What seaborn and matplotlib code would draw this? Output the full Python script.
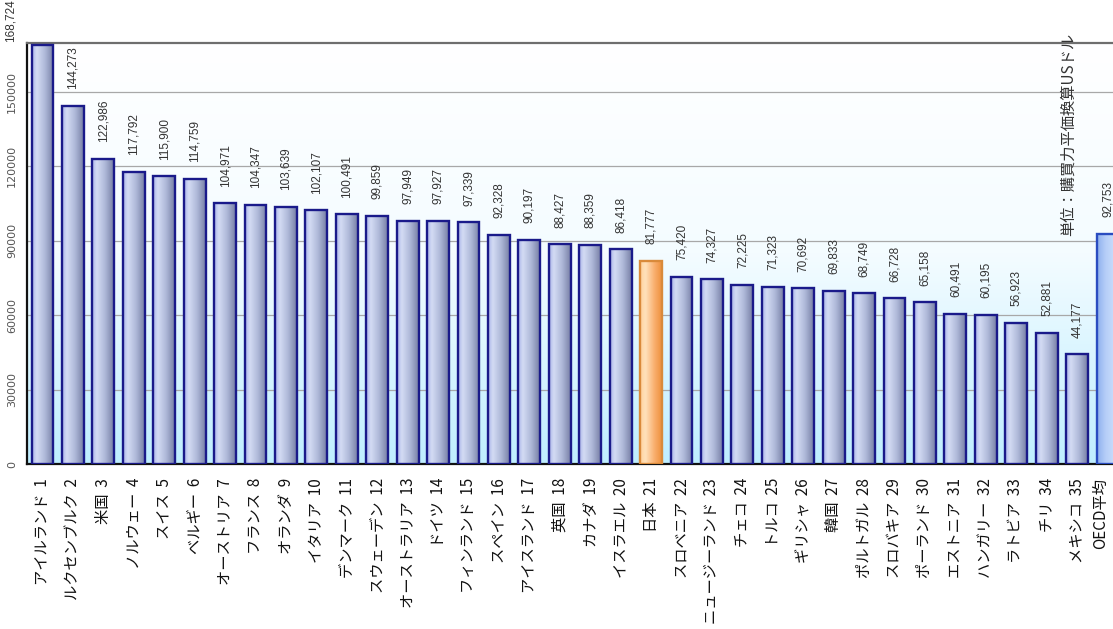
import numpy as np
import pandas as pd
import matplotlib
matplotlib.use("Agg")
import matplotlib.pyplot as plt
import matplotlib.transforms as mtransforms
import seaborn as sns
from matplotlib.colors import LinearSegmentedColormap

# 一人当たり労働生産性（購買力平価換算USドル）
countries = [
    "アイルランド", "ルクセンブルク", "米国", "ノルウェー", "スイス", "ベルギー",
    "オーストリア", "フランス", "オランダ", "イタリア", "デンマーク", "スウェーデン",
    "オーストラリア", "ドイツ", "フィンランド", "スペイン", "アイスランド", "英国",
    "カナダ", "イスラエル", "日本", "スロベニア", "ニュージーランド", "チェコ",
    "トルコ", "ギリシャ", "韓国", "ポルトガル", "スロバキア", "ポーランド",
    "エストニア", "ハンガリー", "ラトビア", "チリ", "メキシコ",
]
ranks = list(range(1, 36))
values = [
    168724, 144273, 122986, 117792, 115900, 114759,
    104971, 104347, 103639, 102107, 100491, 99859,
    97949, 97927, 97339, 92328, 90197, 88427,
    88359, 86418, 81777, 75420, 74327, 72225,
    71323, 70692, 69833, 68749, 66728, 65158,
    60491, 60195, 56923, 52881, 44177,
]
oecd_label = "OECD平均"
oecd_value = 92753
highlight = "日本"
y_ticks = [0, 30000, 60000, 90000, 120000, 150000]
unit_text = "単位：購買力平価換算USドル"

labels = [f"{c}  {r}" for c, r in zip(countries, ranks)] + [oecd_label]
groups = ["japan" if c == highlight else "country" for c in countries] + ["oecd"]
df = pd.DataFrame({"label": labels, "value": values + [oecd_value], "group": groups})

sns.set_theme(style="white")
plt.rcParams["font.family"] = ["Noto Sans CJK JP", "DejaVu Sans"]

W, H = 1113, 629
fig = plt.figure(figsize=(W / 100, H / 100), dpi=100)
ax = fig.add_axes([27 / W, 1 - 464 / H, (W - 27) / W, (464 - 43) / H])

base = {"country": "#b4bedc", "japan": "#fbc088", "oecd": "#b0ccf8"}
edges = {"country": "#1a1a8a", "japan": "#d98a3a", "oecd": "#2a4cc0"}
sns.barplot(data=df, x="label", y="value", hue="group", palette=base,
            dodge=False, width=0.72, legend=False, ax=ax, zorder=3)

ramps = {
    "country": LinearSegmentedColormap.from_list(
        "c", [(0, "#a8b2e8"), (0.22, "#d4dcf4"), (0.6, "#aeb8d8"), (1, "#767ea4")]),
    "japan": LinearSegmentedColormap.from_list(
        "j", [(0, "#ffd09a"), (0.25, "#ffe2bc"), (0.65, "#f9b070"), (1, "#ee903c")]),
    "oecd": LinearSegmentedColormap.from_list(
        "o", [(0, "#8eb0ee"), (0.4, "#b6cef8"), (1, "#d2e4fe")]),
}

xmin, xmax = -0.51, 35.18
ymin, ymax = 0, 169550

# gradient fill inside each bar
grad = np.linspace(0, 1, 256).reshape(1, -1)
for p in list(ax.patches):
    w = p.get_width()
    if w <= 0:
        continue
    idx = int(round(p.get_x() + w / 2))
    g = groups[idx]
    im = ax.imshow(grad, extent=[p.get_x(), p.get_x() + w, p.get_y(), p.get_y() + p.get_height()],
                   cmap=ramps[g], aspect="auto", interpolation="bicubic", zorder=2.9)
    im.set_clip_path(p)
    p.set_facecolor("none")
    p.set_edgecolor(edges[g])
    p.set_linewidth(1.7)

# plot-area background: white fading to pale cyan
bg = LinearSegmentedColormap.from_list("bg", ["#bfeeff", "#f4fcff", "#ffffff"])
ax.imshow(np.linspace(0, 1, 256).reshape(-1, 1), extent=[0, 1, 0, 1], transform=ax.transAxes,
          cmap=bg, aspect="auto", origin="lower", zorder=0.1)

ax.set_xlim(xmin, xmax)
ax.set_ylim(ymin, ymax)
ax.set_yticks(y_ticks)
ax.set_yticklabels([str(t) for t in y_ticks], rotation=90, va="center",
                   fontsize=8, color="#555555", family="DejaVu Sans")
ax.yaxis.grid(True, color="#a8a8a8", linewidth=0.9, zorder=0.5)
ax.set_axisbelow(True)
ax.tick_params(axis="y", length=0, pad=7)
ax.tick_params(axis="x", length=0, pad=10)
ax.set_xticks(range(len(labels)))
ax.set_xticklabels(labels, rotation=90, ha="center", va="top", fontsize=11, color="#111111")
ax.set_xlabel("")
ax.set_ylabel("")

# keep the last category label inside the figure edge
last = ax.get_xticklabels()[-1]
last.set_transform(last.get_transform() +
                   mtransforms.ScaledTranslation(-5 / 72, 0, fig.dpi_scale_trans))

for side in ("left", "bottom"):
    ax.spines[side].set_color("#111111")
    ax.spines[side].set_linewidth(1.6)
ax.spines["top"].set_color("#6e6e6e")
ax.spines["top"].set_linewidth(1.6)
ax.spines["right"].set_visible(False)

# value labels above bars
all_vals = values + [oecd_value]
for i, v in enumerate(all_vals):
    if i == 0:
        ax.annotate(f"{v:,}", xy=(i, v), xytext=(-23, 2), textcoords="offset points",
                    rotation=90, ha="center", va="bottom", fontsize=8.5,
                    color="#333333", family="Liberation Sans", annotation_clip=False)
    else:
        ax.annotate(f"{v:,}", xy=(i, v), xytext=(0, 12), textcoords="offset points",
                    rotation=90, ha="center", va="bottom", fontsize=8.5,
                    color="#333333", family="Liberation Sans")

fig.text(1068 / W, 1 - 134 / H, unit_text, rotation=90, ha="center", va="center",
         fontsize=11, color="#333333")

fig.savefig("out.png", dpi=100)
